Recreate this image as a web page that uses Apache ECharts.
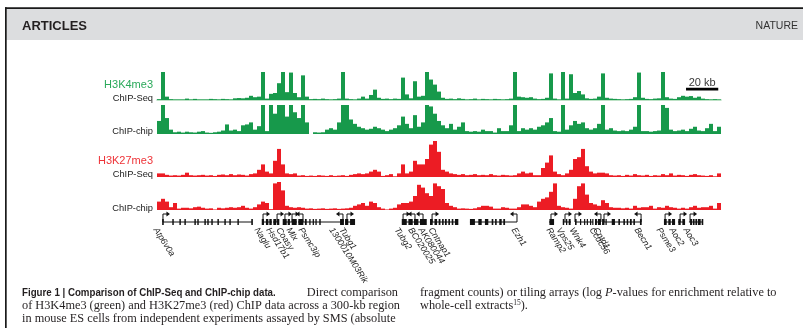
<!DOCTYPE html>
<html>
<head>
<meta charset="utf-8">
<script src="https://cdn.jsdelivr.net/npm/echarts@6/dist/echarts.min.js"></script>
<style>
  html, body { margin: 0; padding: 0; background: #fff; }
  #chart { width: 803px; height: 328px; }
</style>
</head>
<body>
<div id="chart"></div>
<script>
// 141 bins across the region (each bin ~2.5 kb), values in % of track height
const k4Seq = [3,100,12,3,2,2,2,5,2,4,2,2,2,4,3,2,4,3,2,6,7,6,8,15,10,12,100,5,22,25,60,100,28,98,25,10,88,12,3,4,3,5,3,2,3,5,100,5,3,2,5,12,5,18,37,8,4,5,3,5,4,80,20,6,67,12,15,100,73,55,30,
  8,4,5,3,6,4,2,3,5,2,4,3,2,4,3,2,3,5,100,12,10,8,10,5,3,4,8,95,5,2,100,5,92,25,32,20,6,4,5,12,95,8,5,4,3,2,3,4,10,98,8,4,3,5,6,100,10,5,4,10,15,12,14,8,12,5,3,2,3,2];
const k4Chip = [45,100,55,15,6,8,5,8,6,5,8,10,5,4,6,8,12,33,12,15,10,30,33,40,15,27,100,10,100,70,100,100,60,100,75,55,100,40,0,6,5,6,15,20,15,40,100,100,50,35,25,20,15,18,25,20,15,10,15,20,30,60,35,20,65,25,40,100,95,70,45,
  30,20,35,15,25,40,10,8,10,8,15,10,10,5,20,10,10,30,100,10,20,15,20,15,25,30,40,55,10,8,100,15,30,45,35,40,20,15,20,35,100,15,20,12,10,12,10,15,25,100,10,10,8,10,12,100,90,15,10,12,15,10,18,25,12,10,20,35,10,25];
const k27Seq = [10,10,6,4,5,4,6,12,5,4,5,6,4,5,3,6,7,5,8,5,7,6,4,8,10,20,35,15,10,45,78,35,10,8,10,4,5,3,4,3,5,4,3,5,3,4,5,3,6,8,10,8,10,15,20,15,3,5,8,2,10,35,10,15,45,35,35,50,90,100,70,
  20,15,10,8,6,8,5,6,8,5,6,5,8,5,4,6,5,4,5,10,15,10,12,5,5,25,40,60,15,8,5,10,20,50,55,78,30,15,10,12,12,10,5,4,5,3,6,4,8,5,4,6,3,5,4,8,5,10,4,6,5,3,6,8,5,4,3,5,2,10];
const k27Chip = [30,40,30,10,25,5,8,8,6,10,12,8,5,6,2,8,6,8,10,8,10,15,8,5,10,20,30,25,3,95,100,70,15,10,8,10,8,5,6,4,5,6,4,5,6,4,5,6,8,15,20,25,15,30,25,10,5,2,5,8,20,25,25,30,50,90,80,60,50,95,85,
  75,25,15,10,5,6,5,4,6,10,15,15,12,5,5,10,8,5,5,10,20,20,15,10,30,40,45,65,95,15,10,8,5,40,85,95,55,25,20,15,35,25,10,8,8,6,8,5,15,8,10,10,15,5,10,8,15,10,8,5,8,5,10,15,8,10,10,15,5,25];
const bins = k4Seq.map((_, i) => i);

// gene models, positions in kb along the 350-kb axis
const geneNames   = ['Atp6v0a','Naglu','Hsd17b1','Coasy','Mlx','Psmc3ip','1300010M03Rik','Tubg1','Tubg2','BC020025','AK080044','Cntnap1','Ezh1','Ramp2','Vps25','Wnk4','Ccdc56','Cntd1','Becn1','Psme3','Aoc2','Aoc3'];
const geneStart   = [3.7,65.2,72.0,78.2,83.2,87.5,90.6,116.7,152.0,157.0,162.0,169.4,194.2,243.3,251.9,259.4,271.8,277.4,279.3,314.6,323.3,330.1];
const geneEnd     = [59.0,71.4,75.7,83.2,86.9,90.6,115.4,122.9,158.2,160.1,165.1,186.8,223.4,246.4,256.9,270.6,275.5,279.3,300.4,321.5,327.7,338.8];
const geneStrand  = [1,1,1,1,1,-1,-1,1,1,-1,-1,1,-1,1,1,1,-1,1,-1,1,1,1];
const geneTss     = [3.7,65.8,74.5,79.4,83.8,90.6,115.4,117.9,152.7,160.1,165.1,170.7,223.4,244.5,253.2,259.4,275.5,277.4,300.4,315.3,324.6,330.8];
const geneLabelAt = [0,62.7,70.1,76.3,82.6,90.0,109.2,115.4,149.6,158.2,164.5,170.7,222.2,243.9,250.1,258.2,270.6,273.0,298.5,312.2,320.2,328.9];
const exons = [
  [3.2,4.2],[9.5,10.4],[13.9,14.8],[17.0,17.9],[23.2,24.1],[25.0,25.9],[29.4,30.3],[31.2,32.1],[33.7,34.6],[37.5,38.4],[41.8,42.7],[44.9,45.8],[49.9,50.8],[58.5,59.5],
  [65.0,66.4],[67.6,69.1],[69.7,71.2],[72.2,74.0],[74.5,75.9],[78.0,80.5],[81.1,82.5],[83.6,86.7],[87.7,90.8],[91.8,92.9],
  [94.5,95.3],[96.6,97.4],[98.3,99.1],[100.7,101.6],[113.6,116.0],[116.7,118.7],[119.8,122.9],
  [151.9,155.0],[156.0,158.7],[159.5,162.2],[163.2,167.4],
  [169.4,171.1],[172.2,173.8],[174.8,175.9],[176.9,177.9],[178.7,179.8],[180.8,181.8],[182.9,183.9],[184.9,187.0],
  [194.2,197.3],[199.4,201.5],[203.5,205.6],[207.7,208.7],[209.8,210.8],[212.4,213.9],[214.9,216.0],
  [243.5,246.4],[251.8,252.7],[253.8,254.6],[255.5,256.7],
  [259.4,260.4],[262.5,263.1],[265.0,265.6],[266.7,267.3],[268.7,269.3],[270.1,270.7],
  [271.8,273.0],[273.6,275.5],[276.2,277.7],[278.3,279.1],
  [282.2,284.2],[286.3,287.3],[289.4,290.4],[291.5,292.4],[293.5,294.6],[295.6,296.6],[299.7,300.8],
  [314.6,316.3],[317.3,318.8],[319.6,321.5],[323.5,325.0],[326.0,327.7],
  [330.8,332.0],[332.5,333.6],[334.1,335.2],[335.7,337.4],[338.0,339.0]
];
const scaleBar = [328.3, 348.3]; // 20 kb

const GREEN = '#17994b';
const RED = '#ec1c24';
const trackLabelFont = '"Liberation Sans", Arial, sans-serif';

const tracks = [
  { data: k4Seq, color: GREEN, top: 72, height: 28 },
  { data: k4Chip, color: GREEN, top: 105, height: 29 },
  { data: k27Seq, color: RED, top: 141, height: 36 },
  { data: k27Chip, color: RED, top: 182, height: 28 }
];

const chart = echarts.init(document.getElementById('chart'), null, { renderer: 'canvas' });

function renderGene(params, api) {
  const i = params.dataIndex;
  const a = api.coord([geneStart[i], 0]);
  const b = api.coord([geneEnd[i], 0]);
  const t = api.coord([geneTss[i], 0])[0];
  const l = api.coord([geneLabelAt[i], 0])[0];
  const y = a[1];
  const d = geneStrand[i];
  const top = y - 8;
  return {
    type: 'group',
    children: [
      { type: 'line', shape: { x1: a[0], y1: y, x2: b[0], y2: y }, style: { stroke: '#111', lineWidth: 1 } },
      { type: 'polyline', shape: { points: [[t, y], [t, top], [t + d * 4, top]] }, style: { stroke: '#111', lineWidth: 1, fill: null } },
      { type: 'polygon', shape: { points: [[t + d * 7, top], [t + d * 3.5, top - 2.5], [t + d * 3.5, top + 2.5]] }, style: { fill: '#111' } },
      {
        type: 'text', x: l + 2, y: y + 4, rotation: -1.0,
        style: { text: geneNames[i], fill: '#222', font: 'italic 8.8px "Liberation Sans", Arial, sans-serif', align: 'left', verticalAlign: 'top' }
      }
    ]
  };
}

function renderExon(params, api) {
  const a = api.coord([api.value(0), 0]);
  const b = api.coord([api.value(1), 0]);
  return {
    type: 'rect',
    shape: { x: a[0], y: a[1] - 3, width: Math.max(b[0] - a[0], 1.2), height: 6 },
    style: { fill: '#111' }
  };
}

const grid = tracks.map(t => ({ left: 157, width: 564, top: t.top, height: t.height }));
grid.push({ left: 157, width: 564, top: 212, height: 20 });

const xAxis = tracks.map((t, i) => ({
  type: 'category', gridIndex: i, data: bins, boundaryGap: true,
  axisLabel: { show: false }, axisTick: { show: false }, splitLine: { show: false },
  axisLine: { show: i === 0, lineStyle: { color: '#a6d8b3', width: 1.5 } }
}));
xAxis.push({ type: 'value', gridIndex: 4, min: 0, max: 350, show: false });
xAxis.push({ type: 'value', gridIndex: 0, min: 0, max: 350, show: false });

const yAxis = tracks.map((t, i) => ({ type: 'value', gridIndex: i, min: 0, max: 100, show: false }));
yAxis.push({ type: 'value', gridIndex: 4, min: -1, max: 1, show: false });

const series = tracks.map((t, i) => ({
  type: 'bar', xAxisIndex: i, yAxisIndex: i, data: t.data,
  barCategoryGap: '0%', itemStyle: { color: t.color }, silent: true
}));
series.push({
  type: 'custom', xAxisIndex: 4, yAxisIndex: 4, renderItem: renderGene,
  data: geneNames.map((n, i) => [geneStart[i], geneEnd[i]]), encode: { x: [0, 1] }, silent: true
});
series.push({
  type: 'custom', xAxisIndex: 4, yAxisIndex: 4, renderItem: renderExon,
  data: exons, encode: { x: [0, 1] }, silent: true
});
series.push({
  type: 'line', xAxisIndex: 5, yAxisIndex: 0, symbol: 'none', silent: true,
  data: [[scaleBar[0], 39], [scaleBar[1], 39]],
  lineStyle: { color: '#000', width: 2.7 }
});
series.push({
  type: 'scatter', xAxisIndex: 5, yAxisIndex: 0, symbolSize: 0, silent: true,
  data: [[(scaleBar[0] + scaleBar[1]) / 2, 39]],
  label: { show: true, position: 'top', distance: 1, formatter: '20 kb', color: '#000', fontSize: 11, fontFamily: trackLabelFont }
});

const label = (text, y, color, size) => ({
  type: 'text', x: 153, y: y,
  style: { text: text, fill: color, font: size + 'px ' + trackLabelFont, align: 'right', verticalAlign: 'middle' }
});
const serif = '"Liberation Serif", "Times New Roman", serif';
const bodyFont = '12.3px ' + serif;

const graphic = [
  { type: 'rect', shape: { x: 6, y: 9, width: 797, height: 31 }, style: { fill: '#dcdddf' } },
  { type: 'rect', shape: { x: 5, y: 7.3, width: 798, height: 1.7 }, style: { fill: '#1a1a1a' } },
  { type: 'rect', shape: { x: 5, y: 7.3, width: 1.7, height: 321 }, style: { fill: '#1a1a1a' } },
  { type: 'text', x: 22, y: 26, style: { text: 'ARTICLES', fill: '#231f20', font: 'bold 13px "Liberation Sans", Arial, sans-serif', verticalAlign: 'middle' } },
  { type: 'text', x: 798, y: 26, style: { text: 'NATURE', fill: '#333', font: '10.5px "Liberation Sans", Arial, sans-serif', align: 'right', verticalAlign: 'middle' } },
  label('H3K4me3', 85, '#2aa95a', 11),
  label('ChIP-Seq', 98, '#1a1a1a', 9.3),
  label('ChIP-chip', 131, '#1a1a1a', 9.3),
  label('H3K27me3', 161, '#ee3338', 11),
  label('ChIP-Seq', 174, '#1a1a1a', 9.3),
  label('ChIP-chip', 208, '#1a1a1a', 9.3),
  // narrow bold sans for the caption title (condensed by scaling)
  { type: 'text', x: 22, y: 293, scaleX: 0.86, style: { text: 'Figure 1 | Comparison of ChIP-Seq and ChIP-chip data.', fill: '#231f20', font: 'bold 11.3px "Liberation Sans", Arial, sans-serif', verticalAlign: 'middle' } },
  { type: 'text', x: 398, y: 293, style: { text: 'Direct comparison', fill: '#231f20', font: bodyFont, align: 'right', verticalAlign: 'middle' } },
  { type: 'text', x: 22, y: 306, style: { text: 'of H3K4me3 (green) and H3K27me3 (red) ChIP data across a 300-kb region', fill: '#231f20', font: bodyFont, verticalAlign: 'middle' } },
  { type: 'text', x: 22, y: 319, style: { text: 'in mouse ES cells from independent experiments assayed by SMS (absolute', fill: '#231f20', font: bodyFont, verticalAlign: 'middle' } },
  {
    type: 'text', x: 420, y: 293,
    style: {
      text: 'fragment counts) or tiling arrays (log {i|P}-values for enrichment relative to',
      fill: '#231f20', font: bodyFont, verticalAlign: 'middle',
      rich: { i: { fontStyle: 'italic', fontSize: 12.3, fontFamily: serif, fill: '#231f20' } }
    }
  },
  {
    type: 'text', x: 420, y: 306,
    style: {
      text: 'whole-cell extracts{s|15}).',
      fill: '#231f20', font: bodyFont, verticalAlign: 'middle',
      rich: { s: { fontSize: 7.5, fontFamily: serif, fill: '#231f20', padding: [0, 0, 6, 0] } }
    }
  }
];

chart.setOption({
  animation: false,
  backgroundColor: '#fff',
  grid: grid,
  xAxis: xAxis,
  yAxis: yAxis,
  series: series,
  graphic: graphic
});
</script>
</body>
</html>
